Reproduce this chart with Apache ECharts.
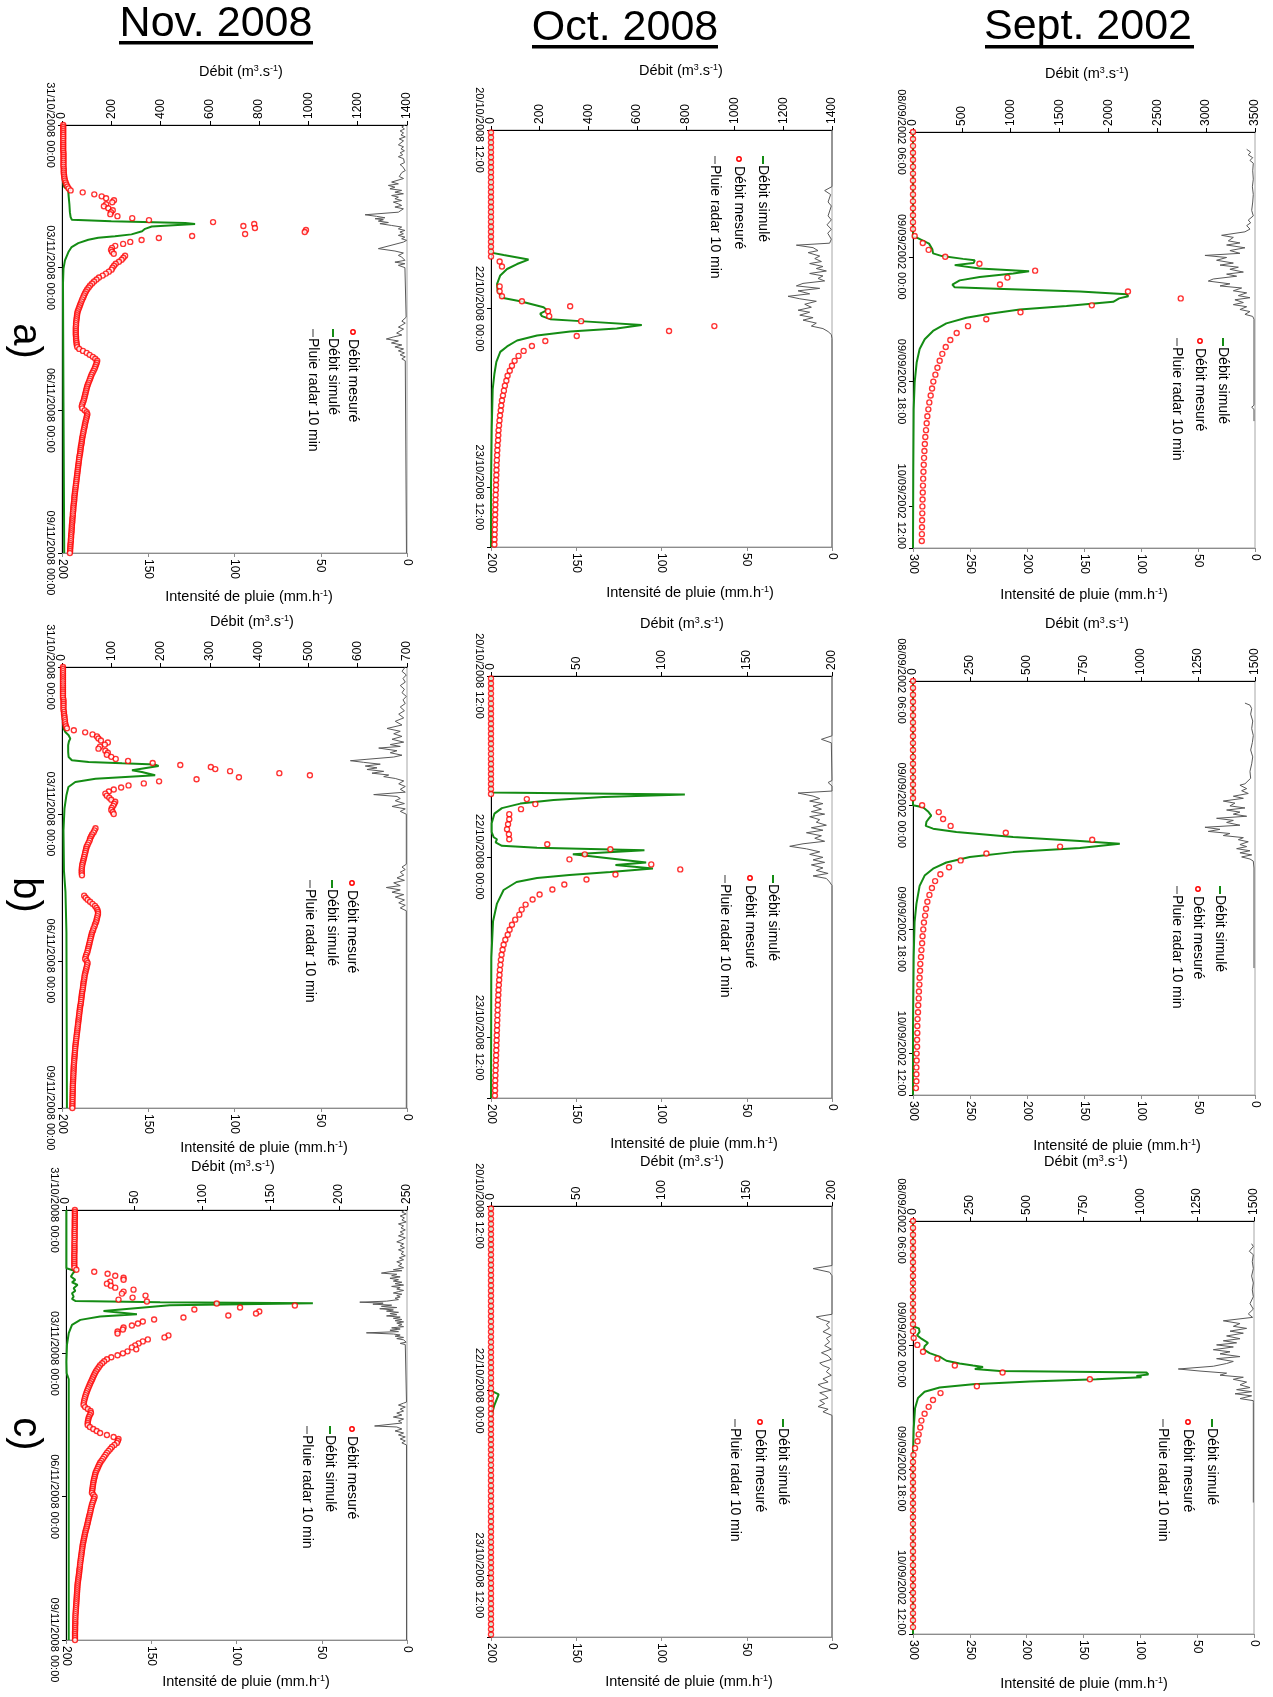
<!DOCTYPE html>
<html><head><meta charset="utf-8">
<script src="https://cdn.jsdelivr.net/npm/echarts@6/dist/echarts.min.js"></script>
<style>html,body{margin:0;padding:0;background:#fff}#c{width:1273px;height:1697px}</style>
</head><body><div id="c"></div><script>
// ---------- tick labels ----------
const sepTimeLabels = ['08/09/2002 06:00','09/09/2002 00:00','09/09/2002 18:00','10/09/2002 12:00'];
const octTimeLabels = ['20/10/2008 12:00','22/10/2008 00:00','23/10/2008 12:00'];
const novTimeLabels = ['31/10/2008 00:00','03/11/2008 00:00','06/11/2008 00:00','09/11/2008 00:00'];
const columnTitles = ['Sept. 2002','Oct. 2008','Nov. 2008'];
const rowLabels = ['a)','b)','c)'];
const seriesNames = ['Débit simulé','Débit mesuré','Pluie radar 10 min'];

// ---------- measured discharge (hourly values, m3/s) ----------
const sepMesStart = 0, octMesStart = 0.5, novMesStart = 0;
const sepA_mes = [0,0,0,0,0,0,0,0,0,0,0,0,0,0,0,17,100,160,330,680,1250,966,890,2200,2740,1830,1100,750,563,447,382,335,300,273,250,229,208,195,181,167,157,147,140,133,126,121,117,113,110,107,104,102,100,98,96,95,93,92,91,90];
const sepB_mes = [0,0,0,0,0,0,0,0,0,0,0,0,0,0,0,0,0,0,40,113,132,165,407,786,645,322,209,158,120,97,83,72,63,57,53,48,45,42,40,37,35,32,31,29,28,26,25,23,22,20,19,19,18,18,16,16,15,15,15,13];
const sepC_mes = [0,0,0,0,0,0,0,0,0,0,0,0,0,0,0,0,0,3,19,44,107,184,394,778,281,121,88,69,51,37,32,25,20,9,2,0,0,0,0,0,0,0,0,0,0,0,0,0,0,0,0,0,0,0,0,0,0,0,0,0];
const octA_mes = [0,0,0,0,0,0,0,0,0,0,0,0,0,0,0,0,0,0,0,0,0,0,0,0,0,0,35.5,45,null,null,null,35.5,35.5,45,127,325,234,239,370,917,731,352,223,168,134,113,97,86,77,68,63,57,53,49,45,42,40,37,35,33,31,30,29,27,26,25,24,23,22.5,22,21,20.5,20,19,18.5,18,17.5,17,16.5,16,15.5,15,14.5,14];
const octB_mes = [0,0,0,0,0,0,0,0,0,0,0,0,0,0,0,0,0,0,0,0,0,0,0,0,21,26,17.6,10.7,10.7,10,9.4,10.5,10.7,33,70,55,46,94,111,73,56,43,36,28.5,24.4,20.3,18,16.6,14.2,12.3,10.9,9.8,8.4,7.4,6.8,6.2,5.8,5.5,5.2,5.0,4.8,4.6,4.4,4.3,4.1,4.0,3.9,3.8,3.7,3.6,3.5,3.4,3.3,3.2,3.1,3.0,2.9,2.8,2.7,2.6,2.5,2.4,2.4,2.3];
const octC_mes = [0,0,0,0,0,0,0,0,0,0,0,0,0,0,0,0,0,0,0,0,0,0,0,0,0,0,0,0,0,0,0,0,0,0,0,0,0,0,0,0,0,0,0,0,0,0,0,0,0,0,0,0,0,0,0,0,0,0,0,0,0,0,0,0,0,0,0,0,0,0,0,0,0,0,0,0,0,0,0,0,0,0,0,0];
const novA_mes = [5,5,5,5,5,5,5,5,5,5, 5,5,5,5,6,6,6,6,6,6, 6,6,7,7,7,8,9,10,12,15, 18,22,27,35,84,131,161,179,211,204,
 179,170,188,206,199,196,225,285,353,613, 780,736,783,990,985,743,528,393,323,277, 248,216,203,199,203,210,256,249,242,231,
 218,211,205,201,190,178,165,150,140,130, 122,114,108,102,97,93,89,86,82,79, 76,73,70,67,64,62,61,60,59,58,
 57,57,56,56,56,56,56,57,57,58, 59,60,62,70,85,100,112,125,135,143, 141,138,135,132,128,124,120,117,114,111,
 108,105,102,100,98,96,94,92,90,88, 85,82,80,82,92,100,103,101,99,97, 95,93,92,90,88,87,85,84,82,81,
 80,79,77,76,75,74,73,71,70,69, 68,67,66,65,64,63,62,61,60,59, 58,57,56,55,54,53,52,51,50,50,
 49,48,47,46,46,45,44,44,43,42, 42,41,40,40,39,39,38,37,37,36, 36,35,34,34,33,33,32];
const novB_mes = [2,2,2,2,2,2,2,2,2,2, 2,2,2,2,2,2,3,3,3,3, 3,3,4,4,5,5,6,6,7,8, 10,24,47,62,71,74,79,93,87,77,
 74,88,93,91,100,109,134,184,240,302, 311,341,441,503,359,273,197,166,135,120, 105,95,88,91,96,100,108,106,104,101,
 100,103,105,null,null,null,null,null,null,68, 66,64,61,59,57,56,54,52,50,49, 48,47,46,45,44,43,42,41,40.5,40,
 40,40,40.5,null,null,null,null,null,null,null, null,null,45,48,52,57,62,67,70,72, 73,73,72,71,70,69,67,66,64,63,
 61,60,59,58,57,56,55,54,53,52, 51,49,48,47,50,52,51,50,49,48, 47,46,45.5,45,44,43.5,43,42.5,42,41,
 40.5,40,39.5,39,38.5,38,37,36.5,36,35.5, 35,34.5,34,33.5,33,32.5,32,31.5,31,30.5, 30,29.5,29,28.5,28,27.5,27,26.7,26.4,26,
 25.7,25.4,25,24.7,24.4,24,23.8,23.6,23.4,23.2, 23,22.8,22.6,22.4,22.2,22,21.9,21.8,21.7,21.6, 21.5,21.4,21.3,21.2,21.1,21,21];
const novC_mes = [6.5,6.5,6.5,6.5,6.5,6.4,6.4,6.4,6.4,6.4, 6.3,6.3,6.3,6.3,6.3,6.3,6.2,6.2,6.2,6.2, 6.2,6.2,6.1,6.1,6.1,6.1,6.1,6.1,6.1,6.2,
 7.6,20.7,30.5,36.1,42.2,42.2,32.4,30,32.9,36.1, 49.5,42.2,41,58.3,48.8,38.5,59.3,110.5,167.8,127.6, 94.1,141.7,139.3,119,86.1,64.6,56.3,52.7,48.3,42.2,
 41.7,37.8,37.8,75.1,72.2,60,56.3,53.2,50.7,48.3, 51.5,45.1,41.7,37.8,33.2,30,28,26.5,25,24, 23,22,21.2,20.5,19.8,19.2,18.5,17.8,17.2,16.6,
 16,15.4,14.9,14.4,14,13.6,13.3,13,12.9,14, 16,18,18.3,17.5,16.8,16.4,16.1,15.9,15.9,17.5, 20,22.5,25,30,34.9,38.5,38,37.3,35.5,33.7,
 32.5,31.2,30,29,28,27,26,25,24.3,23.6, 23,22.3,21.7,21.3,21,20.6,20.3,20,19.8,19.6, 19.4,19.2,19,20,21,20.5,20,19.5,19,18.7,
 18.3,18,17.7,17.3,17,16.6,16.3,16,15.6,15.3, 14.9,14.5,14.1,13.8,13.5,13.2,12.9,12.6,12.3,12.1, 11.9,11.7,11.5,11.3,11.1,10.9,10.7,10.5,10.3,10.2,
 10,9.8,9.7,9.5,9.3,9.1,8.9,8.7,8.5,8.4, 8.3,8.2,8.1,8,7.9,7.8,7.7,7.6,7.5,7.4, 7.3,7.2,7.1,7,6.9,6.9,6.8,6.8,6.8,6.7, 6.7,6.7,6.6,6.6,6.6,6.6,6.6];

// ---------- simulated discharge [hours, m3/s] ----------
const sepA_sim = [[0,0],[15.1,0],[15.2,34],[16.1,164],[16.9,198],[17.5,205],[17.9,297],[18.3,512],[18.5,632],[18.9,620],[19.2,427],[19.4,444],[19.7,683],[20.1,1188],[20.4,1025],[20.9,683],[21.4,478],[22.0,403],[22.4,427],[22.6,854],[23.0,1708],[23.4,2186],[23.7,2203],[24.0,2110],[24.2,2120],[24.5,2049],[25.1,1571],[25.6,1093],[26.2,785],[26.8,546],[27.6,341],[28.7,205],[29.9,120],[31.3,68],[33.2,38],[36.1,17],[40,7],[48.5,3],[60,0]];
const sepB_sim = [[0,0],[18,0],[18.3,44],[18.9,66],[19.5,80],[19.9,70],[20.4,59],[21.0,56],[21.4,88],[21.9,190],[22.6,439],[23.2,732],[23.6,907],[24.2,732],[24.8,439],[25.5,249],[26.3,146],[27.2,88],[28.2,51],[29.7,29],[32.3,15],[34.9,7],[40,3],[50.4,0],[60,0]];
const sepC_sim = [[0,0],[15.3,0],[15.6,26],[16.1,29],[16.6,18],[17.1,37],[17.7,66],[18.2,51],[18.7,48],[19.2,73],[19.7,117],[20.3,147],[20.7,205],[21.0,264],[21.2,308],[21.5,272],[21.8,382],[22.0,1027],[22.3,1035],[22.5,983],[22.7,1005],[23.0,807],[23.3,514],[23.7,264],[24.2,117],[24.8,51],[25.7,22],[27.2,9],[30.2,3],[34.3,0],[60,0]];
const octA_sim = [[0,0],[24.7,0],[25.2,52],[26.1,154],[27.0,107],[28.0,66],[29.3,38],[31.0,25],[32.4,27],[33.8,45],[34.5,120],[35.7,216],[36.3,230],[37.0,202],[37.5,209],[38.1,243],[38.5,366],[39.3,619],[40.0,516],[40.6,325],[41.4,189],[42.4,107],[43.6,66],[44.7,38],[46.7,22],[49.1,14],[52.2,7],[60.1,3],[71.8,0],[84,0]];
const octB_sim = [[0,0],[23.2,0],[23.6,113.7],[24.1,66],[24.7,36.7],[25.4,17.2],[26.3,6.4],[27.4,2],[29.3,0.4],[31.1,0.4],[32.1,1.6],[32.5,3.5],[33.1,2.7],[33.8,6.4],[34.2,27],[34.7,90],[35.5,48],[37.1,91],[37.6,73],[38.3,95],[39.0,70],[39.6,46],[40.2,27],[41.0,15],[42.6,7.4],[45.3,3.5],[48.8,1.2],[56,0.2],[84,0]];
const octC_sim = [[0,0],[36.0,0],[36.7,4.5],[38.8,2],[40.8,0.3],[44,0],[84,0]];
const novA_sim = [[0,4],[20,5],[30,6],[31.5,10],[32.5,25],[33.5,30],[36,27],[40,30],[44,32],[46.5,35],[47.8,40],[48.6,200],[49.5,500],[50,540],[51.2,364],[52.4,337],[53.6,325],[54.4,323],[55.2,282],[56.1,215],[56.9,147],[57.9,107],[59.6,66],[61.6,39],[64.1,26],[68.3,12],[72.5,6],[80,4],[140,6],[216,9]];
const novB_sim = [[0,2],[25,3],[30.2,3.3],[31.8,6.7],[33.4,13.4],[35.1,16.8],[36.5,14],[38.3,12.5],[41.6,12.5],[44.1,13.4],[45.7,20],[46.5,54],[47.2,122],[47.8,189],[48.5,196],[50.6,142],[51.4,162],[53.0,189],[54.7,68],[56.3,27],[58.8,13],[62.8,9],[69.4,5],[80,3],[100,4],[110,7],[130,9],[216,10]];
const novC_sim = [[0,0.3],[29.3,0.3],[30.6,6.8],[31.8,5.1],[33.4,3.6],[35.1,6.8],[36.3,4.4],[37.6,8.5],[39.3,5.6],[40.6,6.8],[41.8,4.4],[43.5,5.6],[44.7,4.4],[45.7,6.8],[46.3,69],[46.8,181],[47.8,76],[50.7,27.5],[52.4,52],[53.5,25],[55.2,10.5],[57.7,4.4],[61.9,2],[67.8,0.7],[76.2,0.3],[82,0.5],[85,2],[216,2]];

// ---------- radar rainfall [hours, mm/h] ----------
const sepA_rain = [[2.5,7.3],[2.9,3.8],[3.3,5.9],[3.7,2.0],[4.1,4.4],[4.5,1.5],[5.6,2.0],[6.8,1.5],[7.9,2.3],[9.0,1.5],[10.1,2.0],[11.3,2.9],[12.1,1.5],[12.7,5.9],[13.1,3.8],[13.5,7.3],[14.0,4.4],[14.4,8.8],[14.9,29.3],[15.2,19.0],[15.7,23.4],[16.0,13.2],[16.3,24.9],[16.7,8.8],[17.1,22.0],[17.5,13.2],[17.8,43.9],[18.1,24.9],[18.5,33.7],[18.9,19.0],[19.2,30.7],[19.5,14.6],[19.8,22.0],[20.2,10.2],[20.5,24.9],[20.8,16.1],[21.2,36.6],[21.5,41.0],[21.9,22.0],[22.2,30.7],[22.5,11.7],[22.9,19.0],[23.2,7.3],[23.6,14.6],[23.9,4.4],[24.2,17.6],[24.6,10.2],[24.9,19.0],[25.2,7.3],[25.6,13.2],[25.9,4.4],[26.3,8.8],[26.6,2.0],[27.0,0.9],[39.4,0.9],[39.7,2.9],[40.0,0.9],[41.7,0.9]];
const sepB_rain = [[3.2,8.8],[3.5,4.4],[4.0,2.9],[4.8,3.8],[5.8,2.0],[6.9,2.9],[7.9,1.5],[8.9,2.3],[10.0,3.8],[11.0,2.0],[12.0,2.9],[13.1,4.4],[14.1,3.8],[14.9,8.8],[15.1,13.2],[15.6,7.3],[15.9,11.7],[16.3,5.9],[16.7,19.0],[17.0,10.2],[17.4,27.8],[17.7,17.6],[18.1,22.0],[18.4,8.8],[18.7,24.9],[19.0,13.2],[19.3,19.0],[19.6,7.3],[19.9,33.7],[20.2,19.0],[20.5,24.9],[20.9,13.2],[21.2,43.9],[21.5,30.7],[21.8,41.0],[22.1,22.0],[22.4,27.8],[22.7,10.2],[23.0,14.6],[23.3,5.9],[23.7,13.2],[24.0,7.3],[24.3,16.1],[24.6,4.4],[24.9,13.2],[25.2,2.9],[25.5,11.7],[25.8,4.4],[26.1,1.5],[27.1,0.9],[41.6,0.9]];
const sepC_rain = [[3.3,2.1],[3.7,0.6],[4.4,4.1],[4.9,0.6],[5.9,1.5],[6.9,0.6],[8.0,2.1],[9.0,0.6],[10.0,1.5],[11.0,0.6],[12.0,3.5],[12.8,0.6],[13.5,5.0],[14.0,1.2],[14.5,27.0],[14.9,12.3],[15.3,18.2],[15.6,6.5],[16.0,21.1],[16.3,9.4],[16.7,24.1],[17.1,12.3],[17.4,27.0],[17.7,15.3],[18.0,32.9],[18.3,18.2],[18.7,35.8],[19.0,21.1],[19.3,29.9],[19.7,12.3],[20.0,32.9],[20.4,18.2],[20.7,24.1],[21.1,35.8],[21.5,66.6],[21.8,47.5],[22.1,24.1],[22.4,29.9],[22.7,9.4],[23.0,18.2],[23.4,6.5],[23.8,12.3],[24.2,3.5],[24.5,15.3],[24.8,2.1],[25.1,16.7],[25.4,2.1],[25.8,12.3],[26.1,0.6],[26.4,0.6],[40.9,0.6]];
const octA_rain = [[0,0],[11.4,0],[12.2,4.3],[13.0,0.8],[14.5,2.3],[15.3,0.4],[17.3,2.3],[18.1,0.4],[19.1,2.9],[20.0,0.4],[20.8,2.5],[22.0,0.4],[22.8,1.4],[23.2,20.9],[23.7,11.1],[24.3,8.2],[24.7,14.0],[25.4,7.2],[25.9,10.1],[26.5,6.2],[26.9,13.1],[27.5,5.3],[27.9,9.2],[28.4,3.3],[28.9,13.1],[29.4,5.3],[29.9,8.2],[30.4,4.3],[30.9,17.0],[31.4,20.9],[31.9,7.2],[32.4,19.9],[33.0,13.1],[33.5,25.8],[34.0,18.9],[34.5,9.2],[35.1,16.0],[35.7,12.1],[36.3,19.9],[36.7,13.1],[37.3,18.9],[37.8,11.1],[38.3,17.0],[38.9,9.2],[39.5,12.1],[40.0,5.3],[40.6,2.3],[41.2,0.4],[42.0,0],[84,0]];
const octB_rain = [[0,0],[11.9,0],[12.6,6.2],[13.3,0.4],[20.8,0],[21.2,2.3],[21.9,0],[22.9,0],[23.3,19.9],[23.9,11.1],[24.4,7.2],[24.9,13.1],[25.4,5.3],[25.9,11.1],[26.5,6.2],[27.0,12.1],[27.5,4.3],[28.0,13.1],[28.6,7.2],[29.1,9.2],[29.7,3.3],[30.2,12.1],[30.7,5.3],[31.2,15.0],[31.8,6.2],[32.3,10.1],[32.9,4.3],[33.4,17.0],[33.9,24.8],[34.4,15.0],[35.0,7.2],[35.5,13.1],[36.1,5.3],[36.6,11.1],[37.1,4.3],[37.6,12.1],[38.2,5.3],[38.7,9.2],[39.3,2.3],[39.8,11.1],[40.3,3.3],[41.0,1.4],[41.7,0],[84,0]];
const octC_rain = [[0,0],[11.6,0],[12.2,11.1],[12.9,1.4],[13.6,0],[21.1,0],[21.6,9.2],[22.1,6.2],[22.6,1.4],[23.1,3.3],[23.8,1.4],[24.5,5.3],[25.2,0.4],[25.8,3.3],[26.5,1.4],[27.2,4.3],[27.9,0.4],[28.6,6.2],[29.2,2.3],[29.9,0.4],[30.6,7.2],[31.1,5.3],[31.6,1.4],[32.3,3.3],[33.0,0.4],[33.7,5.3],[34.3,2.3],[34.8,8.2],[35.4,5.3],[35.9,0.4],[36.4,7.2],[36.9,4.3],[37.4,2.3],[37.9,7.2],[38.5,4.3],[39.1,8.2],[39.6,2.3],[40.1,5.3],[40.8,0],[84,0]];
const novA_rain = [[0,1],[1,3],[2,1.5],[3,4],[4,2],[5,3.5],[6,1],[7,4.5],[8,2],[9,3],[10,5],[11,2],[12,3.5],[13,1.5],[14,4],[15,2.5],[16,5],[17,2],[18,3],[19,1.5],[20,4],[21,2.5],[22,3.5],[23,1],[24,3],[25,2],[26,4.5],[27,2],[28,3.1],[28.8,8.9],[29.7,5.0],[30.5,10.8],[31.4,7.0],[32.2,9.9],[33.0,3.1],[33.9,7.0],[34.7,2.1],[35.6,8.9],[36.4,5.0],[37.2,7.0],[38.1,3.1],[38.9,7.9],[39.8,5.0],[40.6,3.1],[41.4,7.0],[42.3,2.1],[43.1,3.1],[44.0,5.0],[45.3,24.3],[46.1,17.6],[46.8,12.8],[47.3,18.5],[47.8,13.7],[48.5,16.6],[49.2,10.8],[49.8,15.7],[50.7,8.9],[51.5,3.1],[52.4,5.0],[53.2,1.2],[54.0,4.1],[54.9,2.1],[55.7,5.0],[56.6,1.2],[57.4,3.1],[58.2,0.2],[59.1,2.1],[59.9,1.2],[62.4,16.6],[63.6,7.0],[64.6,2.1],[65.8,5.0],[66.6,3.1],[68.3,1.2],[69.2,7.0],[70.0,1.2],[70.8,5.0],[72.0,1.2],[72.5,0.3],[97,0.5],[99,3],[100,1],[102,5],[103,2],[105,6],[106,3],[107,8],[108,12],[109,5],[110,9],[111,3],[112,7],[113,2],[114,5],[115,1.5],[116,4],[117,1],[118,3],[119,1],[120,0.3],[216,0.3]];
const novB_rain = [[0,1.0],[2.1,2.9],[3.9,0.4],[5.6,2.3],[7.4,1.0],[9.1,3.9],[10.9,1.5],[12.6,2.9],[14.4,0.4],[16.1,2.3],[17.9,1.0],[19.6,3.9],[21.4,1.5],[23.1,4.8],[24.9,1.9],[26.6,6.8],[28.4,2.9],[30.1,11.6],[31.5,3.9],[32.7,7.7],[34.0,2.9],[35.4,8.7],[36.8,1.9],[38.0,9.7],[38.9,3.9],[39.7,16.4],[41.0,5.8],[42.0,9.7],[43.2,2.9],[44.1,7.7],[45.2,23.2],[45.9,32.8],[46.7,25.1],[47.6,15.5],[48.5,24.2],[49.4,17.4],[50.2,23.2],[51.1,13.5],[52.0,20.3],[52.9,10.6],[53.7,13.5],[54.6,6.8],[55.8,1.9],[57.2,4.8],[58.5,1.0],[59.9,3.9],[61.3,1.0],[62.5,19.3],[63.4,5.8],[64.4,3.9],[65.5,6.8],[66.9,1.5],[68.3,8.7],[69.5,1.0],[70.7,3.9],[72.1,0.4],[96.6,0.4],[98.0,2.9],[99.2,1.0],[100.5,3.9],[101.9,1.9],[103.3,5.8],[104.5,1.5],[105.7,7.7],[107.1,3.9],[108.0,12.0],[109.2,3.9],[110.3,8.7],[111.5,1.9],[112.7,6.8],[114.1,1.5],[115.5,4.8],[116.7,1.0],[118.0,3.9],[119.4,0.4],[216,0.4]];
const novC_rain = [[0,1],[1,3],[2,0.5],[3,4],[4,1.5],[5,3],[6,0.5],[7,5],[8,2],[9,3.5],[10,1],[11,4],[12,2],[13,5],[14,1],[15,3],[16,6],[17,2],[18,4],[19,1.5],[20,5],[21,2],[22,3.5],[23,1],[24,4.5],[25,2],[26,6],[27,3],[28,5],[29,2],[30,8],[30.5,3],[31,10],[31.7,15],[32.3,6],[33,9],[33.6,4],[34.3,10],[35,5],[35.7,8],[36.3,3],[37,7],[37.7,2],[38.4,9],[39,4],[39.7,6],[40.4,2],[41,5],[41.7,8],[42.3,3],[43,6],[43.7,4],[44.3,7],[45,5],[45.8,12],[46.3,27.7],[46.8,14],[47.3,20],[47.8,9],[48.4,15],[49,6],[49.6,16],[50.2,8],[50.8,12],[51.4,5],[52,10],[52.6,6],[53.2,12],[53.8,4],[54.4,8],[55,3],[55.6,7],[56.2,2],[56.8,6],[57.4,3],[58,5],[58.6,2],[59.2,9],[59.8,4],[60.4,10],[61.1,5],[61.7,23.8],[62.3,8],[62.8,4],[63.4,7],[64,2],[64.6,6],[65.2,2],[65.8,3],[66.4,0.5],[67,4],[67.6,1],[68.2,0.3],[96.5,0.3],[97,2],[98,5],[99,1],[100,4],[101,2],[102,6],[103,3],[104,8],[105,2],[106,5],[107,3],[108.5,19],[109,6],[110,3],[111,7],[112,2],[113,5],[114,1],[115,4],[116,1],[117,3],[118,0.3],[216,0.3]];

// ---------- axis ranges ----------
const sepTime = {max:60, step:18}, octTime = {max:84, step:36}, novTime = {max:216, step:72};
const qAxes = {sepA:[3500,500], sepB:[1500,250], sepC:[1500,250], octA:[1400,200], octB:[200,50], octC:[200,50], novA:[1400,200], novB:[700,100], novC:[250,50]};
const rAxes = {sep:[300,50], oct:[200,50], nov:[200,50]};

// ---------- layout (pixels) ----------
const FONT = '"Liberation Sans", Arial, Helvetica, sans-serif';
const GREEN = '#148c14', RED = '#ff0000', RAIN = '#595959';
const layout = {
  sepA:{g:[913,132,342,416], dl:[1087,74], rl:[1084,595], leg:{sim:1223,mes:1200,rain:1177}, ly:338},
  octA:{g:[491,130,341,417], dl:[681,71], rl:[690,593], leg:{sim:763,mes:739,rain:715}, ly:156},
  novA:{g:[62,125,345,428], dl:[241,72], rl:[249,597], leg:{mes:353,sim:333,rain:313}, ly:329},
  sepB:{g:[913,681,342,414], dl:[1087,624], rl:[1117,1146], leg:{sim:1220,mes:1198,rain:1177}, ly:886},
  octB:{g:[491,676,341,422], dl:[682,624], rl:[694,1144], leg:{sim:773,mes:750,rain:725}, ly:875},
  novB:{g:[62,667,345,441], dl:[252,622], rl:[264,1148], leg:{mes:352,sim:332,rain:310}, ly:880},
  sepC:{g:[913,1221,341,413], dl:[1086,1162], rl:[1084,1684], leg:{sim:1212,mes:1188,rain:1163}, ly:1419},
  octC:{g:[491,1206,341,431], dl:[682,1162], rl:[689,1682], leg:{sim:783,mes:760,rain:735}, ly:1419},
  novC:{g:[66,1210,341,430], dl:[233,1167], rl:[246,1682], leg:{mes:352,sim:330,rain:307}, ly:1426}
};

const panels = [
  {k:'sepA', sim:sepA_sim, mes:sepA_mes, m0:sepMesStart, rain:sepA_rain, t:sepTime, tl:sepTimeLabels, r:rAxes.sep},
  {k:'octA', sim:octA_sim, mes:octA_mes, m0:octMesStart, rain:octA_rain, t:octTime, tl:octTimeLabels, r:rAxes.oct},
  {k:'novA', sim:novA_sim, mes:novA_mes, m0:novMesStart, rain:novA_rain, t:novTime, tl:novTimeLabels, r:rAxes.nov},
  {k:'sepB', sim:sepB_sim, mes:sepB_mes, m0:sepMesStart, rain:sepB_rain, t:sepTime, tl:sepTimeLabels, r:rAxes.sep},
  {k:'octB', sim:octB_sim, mes:octB_mes, m0:octMesStart, rain:octB_rain, t:octTime, tl:octTimeLabels, r:rAxes.oct},
  {k:'novB', sim:novB_sim, mes:novB_mes, m0:novMesStart, rain:novB_rain, t:novTime, tl:novTimeLabels, r:rAxes.nov},
  {k:'sepC', sim:sepC_sim, mes:sepC_mes, m0:sepMesStart, rain:sepC_rain, t:sepTime, tl:sepTimeLabels, r:rAxes.sep},
  {k:'octC', sim:octC_sim, mes:octC_mes, m0:octMesStart, rain:octC_rain, t:octTime, tl:octTimeLabels, r:rAxes.oct},
  {k:'novC', sim:novC_sim, mes:novC_mes, m0:novMesStart, rain:novC_rain, t:novTime, tl:novTimeLabels, r:rAxes.nov}
];

const grid = [], xAxis = [], yAxis = [], series = [], graphic = [];
const lbl = {color:'#000', fontFamily:FONT};
const plainNum = (v) => String(v);

panels.forEach((p, i) => {
  const L = layout[p.k], q = qAxes[p.k];
  grid.push({left:L.g[0], top:L.g[1], width:L.g[2], height:L.g[3], show:true, borderColor:'#a6a6a6', borderWidth:1, containLabel:false});
  xAxis.push({gridIndex:i, type:'value', position:'top', min:0, max:q[0], interval:q[1],
    axisLine:{show:true, onZero:false, lineStyle:{color:'#000', width:1}},
    axisTick:{show:true, inside:false, length:4, lineStyle:{color:'#000'}},
    axisLabel:Object.assign({rotate:-90, margin:6, fontSize:12, formatter:plainNum}, lbl), splitLine:{show:false}});
  xAxis.push({gridIndex:i, type:'value', position:'bottom', inverse:true, min:0, max:p.r[0], interval:p.r[1],
    axisLine:{show:true, onZero:false, lineStyle:{color:'#8c8c8c', width:1}},
    axisTick:{show:true, inside:false, length:4, lineStyle:{color:'#8c8c8c'}},
    axisLabel:Object.assign({rotate:-90, margin:6, fontSize:12, formatter:plainNum}, lbl), splitLine:{show:false}});
  yAxis.push({gridIndex:i, type:'value', inverse:true, min:0, max:p.t.max, interval:p.t.step,
    axisLine:{show:true, onZero:false, lineStyle:{color:'#000', width:1}},
    axisTick:{show:true, inside:false, length:4, lineStyle:{color:'#000'}},
    axisLabel:Object.assign({rotate:-90, margin:6, fontSize:11, showMaxLabel:true,
      formatter:(v)=>{const k=Math.round(v/p.t.step); return (Math.abs(k*p.t.step-v)<1e-6 && p.tl[k]) ? p.tl[k] : '';}}, lbl),
    splitLine:{show:false}});
  series.push({type:'line', name:seriesNames[0], xAxisIndex:2*i, yAxisIndex:i, showSymbol:false, symbol:'none',
    data:p.sim.map(d=>[d[1], d[0]]), lineStyle:{color:GREEN, width:2}, z:3, animation:false});
  const md = []; p.mes.forEach((v, j) => { if (v !== null) md.push([v, p.m0 + j]); });
  series.push({type:'scatter', name:seriesNames[1], xAxisIndex:2*i, yAxisIndex:i, data:md, symbol:'circle', symbolSize:5,
    itemStyle:{color:'#fff', borderColor:RED, borderWidth:1.4}, z:4, animation:false});
  series.push({type:'line', name:seriesNames[2], xAxisIndex:2*i+1, yAxisIndex:i, showSymbol:false, symbol:'none',
    data:p.rain.map(d=>[d[1], d[0]]), lineStyle:{color:RAIN, width:1}, z:2, animation:false});

  // axis names
  graphic.push({type:'text', x:L.dl[0], y:L.dl[1], style:{text:'Débit (m{s|3}.s{s|-1})', fontSize:14.5, fontFamily:FONT, fill:'#000', align:'center', verticalAlign:'middle',
    rich:{s:{fontSize:9, fontFamily:FONT, verticalAlign:'top', padding:[0,0,6,0]}}}});
  graphic.push({type:'text', x:L.rl[0], y:L.rl[1], style:{text:'Intensité de pluie (mm.h{s|-1})', fontSize:14.5, fontFamily:FONT, fill:'#000', align:'center', verticalAlign:'middle',
    rich:{s:{fontSize:9, fontFamily:FONT, verticalAlign:'top', padding:[0,0,6,0]}}}});
  // rotated legends
  const mk = {
    sim:{marker:{type:'line', shape:{x1:0,y1:0,x2:8,y2:0}, style:{stroke:GREEN, lineWidth:2}}, text:seriesNames[0], tx:9},
    mes:{marker:{type:'circle', shape:{cx:3,cy:0,r:2.2}, style:{fill:'#fff', stroke:RED, lineWidth:1.5}}, text:seriesNames[1], tx:10},
    rain:{marker:{type:'line', shape:{x1:0,y1:0,x2:8,y2:0}, style:{stroke:RAIN, lineWidth:1.2}}, text:seriesNames[2], tx:9}
  };
  Object.keys(L.leg).forEach(key => {
    graphic.push({type:'group', x:L.leg[key], y:L.ly, rotation:-Math.PI/2, children:[
      mk[key].marker,
      {type:'text', x:mk[key].tx, y:0, style:{text:mk[key].text, fontSize:14, fontFamily:FONT, fill:'#000', align:'left', verticalAlign:'middle'}}
    ]});
  });
});

// column titles with underline
const titleLayout = [{cx:1088, cy:27, u:[985,1194,45]}, {cx:625, cy:28, u:[532,718,45]}, {cx:216, cy:24, u:[119,313,41]}];
columnTitles.forEach((t, i) => {
  const T = titleLayout[i];
  graphic.push({type:'text', x:T.cx, y:T.cy, style:{text:t, fontSize:43, fontFamily:FONT, fill:'#000', align:'center', verticalAlign:'middle'}});
  graphic.push({type:'rect', shape:{x:T.u[0], y:T.u[2], width:T.u[1]-T.u[0], height:3.5}, style:{fill:'#000'}});
});
// row labels
const rowLayout = [[25,341],[25,895],[25,1434]];
rowLabels.forEach((t, i) => {
  graphic.push({type:'text', x:rowLayout[i][0], y:rowLayout[i][1], rotation:-Math.PI/2,
    style:{text:t, fontSize:40, fontFamily:FONT, fill:'#000', align:'center', verticalAlign:'middle'}});
});

const chart = echarts.init(document.getElementById('c'), null, {renderer:'canvas', width:1273, height:1697});
chart.setOption({animation:false, backgroundColor:'#fff', grid, xAxis, yAxis, series, graphic});
</script></body></html>
